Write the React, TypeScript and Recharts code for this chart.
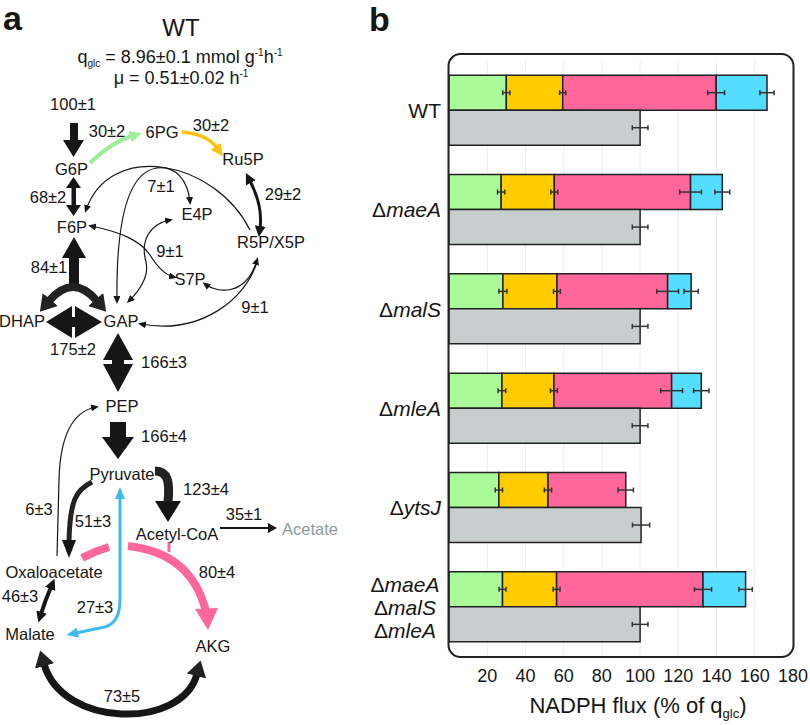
import React from 'react';
import { BarChart, Bar, XAxis, YAxis, CartesianGrid, ErrorBar } from 'recharts';

const strains = ['WT', 'ΔmaeA', 'ΔmalS', 'ΔmleA', 'ΔytsJ', 'ΔmaeA ΔmalS ΔmleA'];
const zwf = [30, 27.3, 28.2, 27.7, 26.1, 28];
const zwfErr = [1.9, 1.9, 2.1, 2, 1.9, 1.8];
const gnd = [29.5, 27.8, 28.3, 27.2, 25.7, 28.3];
const gndErr = [1.6, 1.8, 1.8, 1.8, 1.9, 1.8];
const icd = [80.3, 71.3, 57.9, 61.6, 40.7, 76.6];
const icdErr = [4.4, 5.7, 5.7, 5.7, 4, 4.5];
const mae: (number | null)[] = [26.6, 16.6, 12.3, 15.5, null, 22.3];
const maeErr: (number | null)[] = [3.7, 3.9, 3.7, 4, null, 3.5];
const total = [100, 100, 100, 100, 100.5, 100];
const totalErr = [4.1, 4.1, 4.1, 4.1, 4.5, 4.1];
const xTicks = [20, 40, 60, 80, 100, 120, 140, 160, 180];

const data = strains.map((name, i) => ({
  name,
  zwf: zwf[i], zwfErr: zwfErr[i],
  gnd: gnd[i], gndErr: gndErr[i],
  icd: icd[i], icdErr: icdErr[i],
  mae: mae[i], maeErr: maeErr[i],
  total: total[i], totalErr: totalErr[i],
}));

const FONT = '"Liberation Sans", Arial, Helvetica, sans-serif';
const INK = '#161616';

const StrainLabel = (name: string, x: number, y: number, anchor: 'end' | 'middle', key?: string) => {
  if (name === 'WT') {
    return <text key={key} x={x} y={y} dy="0.35em" textAnchor={anchor} fontSize={21} fill={INK}>WT</text>;
  }
  return (
    <text key={key} x={x} y={y} dy="0.35em" textAnchor={anchor} fontSize={21} fill={INK}>
      <tspan>Δ</tspan>
      <tspan fontStyle="italic">{name.slice(1)}</tspan>
    </text>
  );
};

const YTick = (props: any) => {
  const { y, payload } = props;
  const name: string = payload.value;
  if (name.includes(' ')) {
    const parts = name.split(' ');
    return (
      <g>
        {parts.map((p, i) => StrainLabel(p, 405, y + (i - 1) * 23, 'middle', p + i))}
      </g>
    );
  }
  return <g>{StrainLabel(name, 441, y, 'end')}</g>;
};

const XTick = (props: any) => {
  const { x, payload } = props;
  return (
    <text x={x} y={682} textAnchor="middle" fontSize={18} fill={INK}>
      {payload.value}
    </text>
  );
};

const XLabel = () => (
  <text x={638} y={713} textAnchor="middle" fontSize={22} fill={INK}>
    NADPH flux (% of q<tspan fontSize={13} dy={5}>glc</tspan><tspan dy={-5}>)</tspan>
  </text>
);

const T = (x: number, y: number, s: string, extra: any = {}) => (
  <text x={x} y={y} textAnchor="middle" {...extra}>{s}</text>
);

const Diagram = () => (
  <svg width={810} height={725} style={{ position: 'absolute', left: 0, top: 0, pointerEvents: 'none' }}
    fontFamily={FONT} fontSize={16.5} fill={INK}>
    <defs>
      <marker id="thin" markerUnits="userSpaceOnUse" markerWidth={8} markerHeight={7} refX={5} refY={3.5} orient="auto-start-reverse">
        <path d="M0,0 L8,3.5 L0,7 z" fill={INK} />
      </marker>
      <marker id="med" markerUnits="userSpaceOnUse" markerWidth={11} markerHeight={11} refX={2} refY={5.5} orient="auto-start-reverse">
        <path d="M0,0 L11,5.5 L0,11 z" fill={INK} />
      </marker>
      <marker id="thick" markerUnits="userSpaceOnUse" markerWidth={16} markerHeight={20} refX={2} refY={10} orient="auto-start-reverse">
        <path d="M0,0 L16,10 L0,20 z" fill="#222" />
      </marker>
      <marker id="blue" markerUnits="userSpaceOnUse" markerWidth={12} markerHeight={10} refX={2} refY={5} orient="auto-start-reverse">
        <path d="M0,0 L12,5 L0,10 z" fill="#3DBBEE" />
      </marker>
      <marker id="green" markerUnits="userSpaceOnUse" markerWidth={12} markerHeight={12} refX={2} refY={6} orient="auto-start-reverse">
        <path d="M0,0 L12,6 L0,12 z" fill="#9CEE98" />
      </marker>
      <marker id="yellow" markerUnits="userSpaceOnUse" markerWidth={12} markerHeight={12} refX={2} refY={6} orient="auto-start-reverse">
        <path d="M0,0 L12,6 L0,12 z" fill="#FFC20E" />
      </marker>
    </defs>

    {/* panel letters */}
    <text x={3} y={30} fontSize={34} fontWeight="bold">a</text>
    <text x={369} y={31} fontSize={34} fontWeight="bold">b</text>

    {/* header */}
    <text x={181} y={36} textAnchor="middle" fontSize={24}>WT</text>
    <text x={180} y={63} textAnchor="middle" fontSize={18}>
      q<tspan fontSize={10} dy={4}>glc</tspan><tspan dy={-4}> = 8.96±0.1 mmol g</tspan>
      <tspan fontSize={10} dy={-7}>-1</tspan><tspan dy={7}>h</tspan><tspan fontSize={10} dy={-7}>-1</tspan>
    </text>
    <text x={181} y={84} textAnchor="middle" fontSize={18}>
      μ = 0.51±0.02 h<tspan fontSize={10} dy={-7}>-1</tspan>
    </text>

    {/* thick glycolysis arrows */}
    <rect x={70} y={123} width={8} height={18} fill={INK} />
    <polygon points="63,140 84,140 73.5,157" fill={INK} />

    <rect x={71.5} y={186} width={4.5} height={21} fill={INK} />
    <polygon points="66,188 81,188 73.5,177" fill={INK} />
    <polygon points="66,205 81,205 73.5,216" fill={INK} />

    <polygon points="62,258 86,258 74,237" fill={INK} />
    <rect x={69} y={257} width={10} height={33} fill={INK} />
    <path d="M49,301 Q73,273 97,301" stroke="#222" strokeWidth={8} fill="none" markerStart="url(#thick)" markerEnd="url(#thick)" />

    <polygon points="46,322 72,306 72,338" fill={INK} />
    <polygon points="102,322 75,306 75,338" fill={INK} />
    <rect x={71} y={317} width={5} height={10} fill={INK} />

    <polygon points="118,333 103,360 133,360" fill={INK} />
    <polygon points="103,364 133,364 118,392" fill={INK} />
    <rect x={112} y={358} width={12} height={8} fill={INK} />

    <rect x={110} y={422} width={16} height={15} fill={INK} />
    <polygon points="102,437 134,437 118,459" fill={INK} />

    {/* PPP */}
    <path d="M90,163 Q112,142 132,136" stroke="#9CEE98" strokeWidth={4} fill="none" markerEnd="url(#green)" />
    <path d="M182,132 Q207,134 217,148" stroke="#FFC20E" strokeWidth={3.5} fill="none" markerEnd="url(#yellow)" />
    <path d="M250,181 Q263,206 260,228" stroke={INK} strokeWidth={3} fill="none" markerStart="url(#med)" markerEnd="url(#med)" />

    <g stroke={INK} strokeWidth={1.2} fill="none">
      <path d="M250,230 C215,160 110,140 86,210" markerEnd="url(#thin)" />
      <path d="M156,168 C175,165 188,180 190,202" markerEnd="url(#thin)" />
      <path d="M157,168 C128,172 116,220 117,301" markerEnd="url(#thin)" />
      <path d="M170,220 C150,224 140,240 146,262 C150,280 135,295 129,301" markerStart="url(#thin)" markerEnd="url(#thin)" />
      <path d="M91,226 C120,232 140,240 150,255 C158,268 165,275 174,277" markerStart="url(#thin)" markerEnd="url(#thin)" />
      <path d="M205,284 C217,293 246,297 257,260" markerStart="url(#thin)" markerEnd="url(#thin)" />
      <path d="M257,262 C245,300 200,335 141,324" markerEnd="url(#thin)" />
      <path d="M57,556 L59,480 C60,440 70,412 96,407" markerEnd="url(#thin)" />
    </g>

    {/* lower part */}
    <path d="M155,471 C168,471 170,482 168,502" stroke="#222" strokeWidth={9} fill="none" />
    <polygon points="155,501 181,501 168,522" fill={INK} />
    <path d="M220,528 L269,528" stroke={INK} strokeWidth={2} />
    <polygon points="268,523 268,533 277,528" fill={INK} />

    <path d="M92,482 C76,490 70,500 69,541" stroke="#222" strokeWidth={5} fill="none" />
    <polygon points="62,540 76,540 69,558" fill={INK} />

    <path d="M82,558 Q95,551 109,547" stroke="#FF6699" strokeWidth={8} fill="none" />
    <path d="M128,546 Q192,553 206,612" stroke="#FF6699" strokeWidth={8} fill="none" />
    <polygon points="195,609 218,608 208,630" fill="#FF6699" />
    <line x1={169} y1={542} x2={169} y2={552} stroke="#FF6699" strokeWidth={3} />

    <path d="M120,497 L120,600 Q120,626 100,628 L76,633" stroke="#3DBBEE" strokeWidth={3} fill="none" markerStart="url(#blue)" markerEnd="url(#blue)" />

    <path d="M51,587 Q45,601 41,614" stroke={INK} strokeWidth={4} fill="none" markerStart="url(#med)" markerEnd="url(#med)" />
    <path d="M44,664 C62,728 182,730 197,674" stroke={INK} strokeWidth={7} fill="none" markerStart="url(#thick)" markerEnd="url(#thick)" />

    {/* labels */}
    {T(73, 110, '100±1')}
    {T(71.5, 175, 'G6P')}
    {T(107, 137, '30±2')}
    {T(162, 138, '6PG')}
    {T(211, 131, '30±2')}
    {T(243, 165, 'Ru5P')}
    {T(48, 203, '68±2')}
    {T(72, 233, 'F6P')}
    {T(161, 192, '7±1')}
    {T(197, 220, 'E4P')}
    {T(283, 200, '29±2')}
    {T(271, 248, 'R5P/X5P')}
    {T(170, 257, '9±1')}
    {T(190, 285, 'S7P')}
    {T(255, 313, '9±1')}
    {T(49, 273, '84±1')}
    {T(22, 327, 'DHAP')}
    {T(121, 327, 'GAP')}
    {T(73, 355, '175±2')}
    {T(164, 368, '166±3')}
    {T(122, 412, 'PEP')}
    {T(164, 442, '166±4')}
    {T(122, 480, 'Pyruvate')}
    {T(206, 495, '123±4')}
    {T(177, 540, 'Acetyl-CoA')}
    {T(244, 520, '35±1')}
    {T(310, 535, 'Acetate', { fill: '#8C9A9A' })}
    {T(39, 515, '6±3')}
    {T(93, 527, '51±3')}
    {T(54, 578, 'Oxaloacetate')}
    {T(217, 578, '80±4')}
    {T(20, 602, '46±3')}
    {T(95, 613, '27±3')}
    {T(30, 640, 'Malate')}
    {T(213, 652, 'AKG')}
    {T(122, 702, '73±5')}

    {/* panel b frame */}
    <rect x={448.5} y={54} width={345} height={603} rx={12} ry={12} fill="none" stroke="#222" strokeWidth={2} />
  </svg>
);

const EB = { width: 2.5, strokeWidth: 1.5, stroke: '#333', direction: 'x' as const };

export default function App() {
  return (
    <div style={{ position: 'absolute', left: 0, top: 0, width: 810, height: 725, background: '#fff', fontFamily: FONT }}>
      <BarChart
        width={810}
        height={725}
        data={data}
        layout="vertical"
        margin={{ top: 61, right: 17, bottom: 0, left: 0 }}
        barCategoryGap="14.3%"
        barGap={0}
        style={{ fontFamily: FONT }}
      >
        <CartesianGrid horizontal={false} vertical stroke="#ececec" strokeWidth={1} />
        <XAxis
          type="number"
          domain={[0, 180]}
          ticks={xTicks}
          axisLine={false}
          tickLine={false}
          tick={<XTick />}
          height={68}
          label={{ content: () => <XLabel /> }}
        />
        <YAxis
          type="category"
          dataKey="name"
          width={449}
          axisLine={false}
          tickLine={false}
          interval={0}
          tick={<YTick />}
        />
        <Bar dataKey="zwf" stackId="a" fill="#AAFA9A" stroke="#222" strokeWidth={1.5} isAnimationActive={false}>
          <ErrorBar dataKey="zwfErr" {...EB} />
        </Bar>
        <Bar dataKey="gnd" stackId="a" fill="#FFCC00" stroke="#222" strokeWidth={1.5} isAnimationActive={false}>
          <ErrorBar dataKey="gndErr" {...EB} />
        </Bar>
        <Bar dataKey="icd" stackId="a" fill="#FF6699" stroke="#222" strokeWidth={1.5} isAnimationActive={false}>
          <ErrorBar dataKey="icdErr" {...EB} />
        </Bar>
        <Bar dataKey="mae" stackId="a" fill="#55DDFF" stroke="#222" strokeWidth={1.5} isAnimationActive={false}>
          <ErrorBar dataKey="maeErr" {...EB} />
        </Bar>
        <Bar dataKey="total" stackId="b" fill="#C7CFCE" stroke="#222" strokeWidth={1.5} isAnimationActive={false}>
          <ErrorBar dataKey="totalErr" {...EB} />
        </Bar>
      </BarChart>
      <Diagram />
    </div>
  );
}
